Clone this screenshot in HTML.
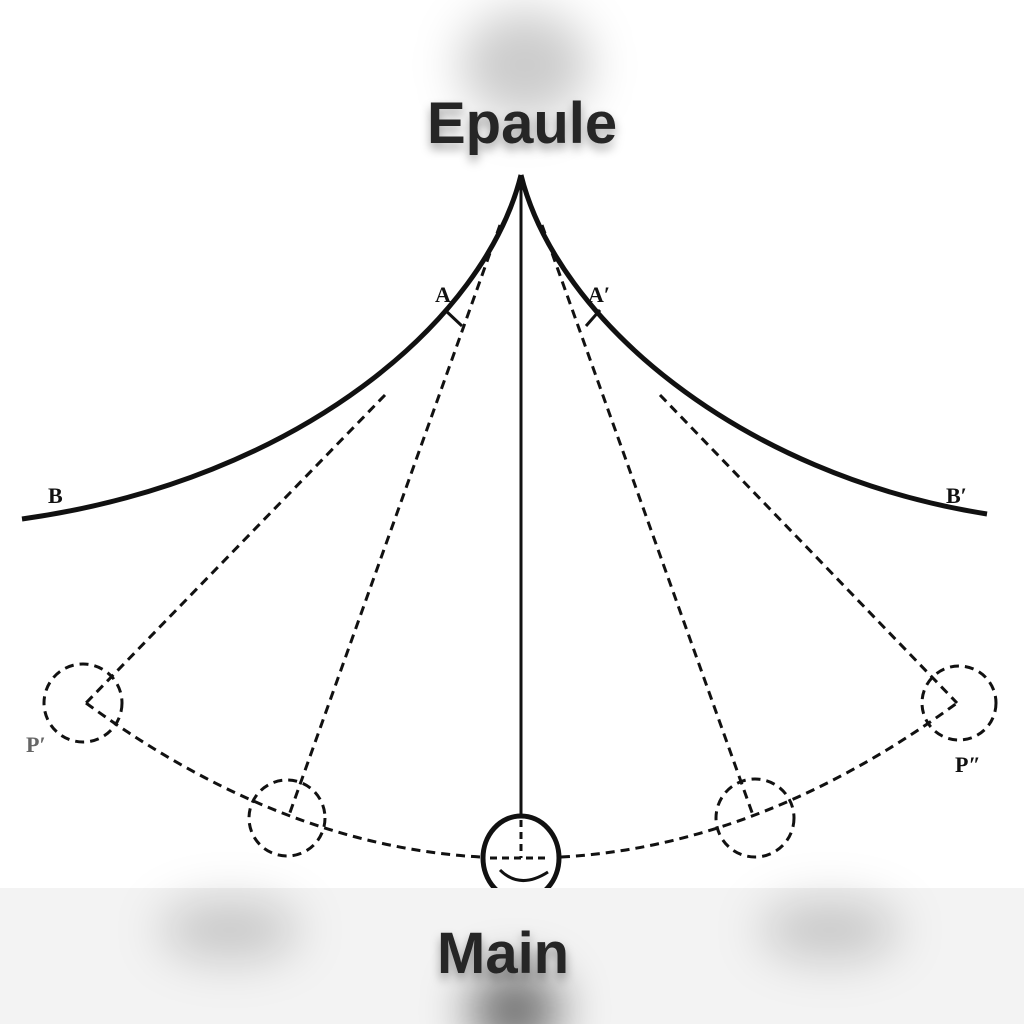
<!DOCTYPE html>
<html><head><style>
html,body{margin:0;padding:0;background:#fff}
#c{position:relative;width:1024px;height:1024px;overflow:hidden;background:#fff}
.blob{position:absolute;border-radius:50%;filter:blur(24px)}
.t{position:absolute;font-family:"Liberation Sans",sans-serif;font-weight:bold;color:#262626;text-shadow:0 6px 10px rgba(0,0,0,0.35);white-space:nowrap}
</style></head><body><div id="c">
<div class="blob" style="left:460px;top:10px;width:130px;height:110px;background:rgba(0,0,0,0.2)"></div>
<svg width="1024" height="1024" style="position:absolute;left:0;top:0">
<g fill="none" stroke="#111">
<path d="M521,175 C485,320 300,480 22,519" stroke-width="5"/>
<path d="M521,175 C557,320 740,475 987,514" stroke-width="5"/>
<line x1="521" y1="178" x2="521" y2="830" stroke-width="3"/>
<g stroke-width="3" stroke-dasharray="9,6">
<line x1="500" y1="225" x2="288" y2="818"/>
<line x1="542" y1="225" x2="754" y2="818"/>
<line x1="385" y1="395" x2="86" y2="703"/>
<line x1="660" y1="395" x2="957" y2="703"/>
<path d="M86,703 Q300,860 521,858 Q742,860 957,703"/>
<circle cx="83" cy="703" r="39"/>
<circle cx="287" cy="818" r="38"/>
<circle cx="755" cy="818" r="39"/>
<circle cx="959" cy="703" r="37"/>
</g>
<ellipse cx="521" cy="858" rx="38" ry="42" stroke-width="5" fill="#fff"/>
<path d="M500,870 Q520,890 548,872" stroke-width="3"/>
<g stroke-width="3" stroke-dasharray="7,5"><line x1="521" y1="820" x2="521" y2="858"/><line x1="490" y1="858" x2="550" y2="858"/></g>
<line x1="445" y1="310" x2="462" y2="326" stroke-width="3"/>
<line x1="600" y1="310" x2="586" y2="326" stroke-width="3"/>
</g>
<g font-family="Liberation Serif,serif" font-weight="bold" font-size="22" fill="#111">
<text x="48" y="503">B</text><text x="946" y="503">B′</text>
<text x="435" y="302">A</text><text x="588" y="302">A′</text>
<text x="26" y="752" fill="#666">P′</text><text x="955" y="772">P″</text>
</g>
</svg>
<div style="position:absolute;left:0;top:888px;width:1024px;height:136px;background:#f3f3f3"></div>
<div class="blob" style="left:160px;top:900px;width:140px;height:60px;background:rgba(0,0,0,0.18)"></div>
<div class="blob" style="left:760px;top:900px;width:140px;height:60px;background:rgba(0,0,0,0.18)"></div>
<div class="blob" style="left:470px;top:970px;width:90px;height:80px;background:rgba(0,0,0,0.55)"></div>
<div class="t" style="left:427px;top:90px;font-size:58px">Epaule</div>
<div class="t" style="left:437px;top:920px;font-size:58px">Main</div>
</div></body></html>
